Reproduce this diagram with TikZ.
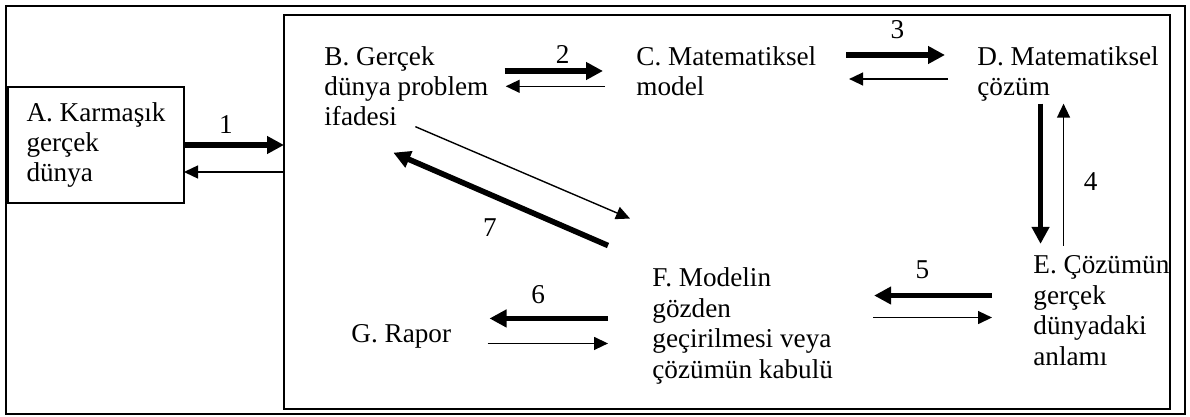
\documentclass[tikz,border=0pt]{standalone}
\usepackage{fontspec}
\setmainfont{Liberation Serif}
\usetikzlibrary{arrows.meta,calc}

\begin{document}
\begin{tikzpicture}[x=0.5pt,y=-0.5pt,
  frame/.style={draw,line width=0.75pt,inner sep=0pt,outer sep=0pt},
  txt/.style={font=\fontsize{13.6}{15.2}\selectfont,align=left,inner sep=0pt,anchor=base west},
  num/.style={font=\fontsize{13.6}{15.2}\selectfont,inner sep=0pt},
  thk/.style={-{Triangle[length=8.5pt,width=8.5pt]},line width=2.8pt},
  thn/.style={-{Triangle[length=7pt,width=6.5pt]},line width=0.7pt}]
  \useasboundingbox (0,0) rectangle (1190,417);
  % frames
  \node[frame,anchor=north west,minimum width=589.5pt,minimum height=204pt] (outer) at (6,6) {};
  \node[frame,anchor=north west,minimum width=443pt,minimum height=197pt] (M) at (284,15) {};
  % stages (placed by the baseline of their last line)
  \node[frame,line width=0.6pt,minimum width=88pt,minimum height=58pt,
    font=\fontsize{13.6}{15.2}\selectfont,align=left] (A) at (96,145) {A. Karmaşık\\gerçek\\dünya};
  \node[txt] (B) at (324,126) {B. Gerçek\\dünya problem\\ifadesi};
  \node[txt] (C) at (636,95.5) {C. Matematiksel\\model};
  \node[txt] (D) at (977,95.5) {D. Matematiksel\\çözüm};
  \node[txt] (E) at (1033,365) {E. Çözümün\\gerçek\\dünyadaki\\anlamı};
  \node[txt] (F) at (652,378) {F. Modelin\\gözden\\geçirilmesi veya\\çözümün kabulü};
  \node[txt] (G) at (351,343) {G. Rapor};
  % 1
  \draw[thk] (A.east) -- (A.east -| M.west) node[num,above,pos=0.42,yshift=4.5pt] {1};
  \draw[thn] ([yshift=-13.5pt]A.east -| M.west) -- ([yshift=-13.5pt]A.east);
  % 2
  \draw[thk] ([xshift=8pt]B.east |- C.west) -- ([xshift=-16.5pt]C.west) node[num,above,pos=0.59,yshift=2.5pt] {2};
  \draw[thn] ([xshift=-15.5pt]C.west |- B.east) -- ([xshift=8.5pt]B.east);
  % 3
  \draw[thk] ([xshift=14.75pt,yshift=8pt]C.east) -- ([xshift=-16pt,yshift=8pt]C.east -| D.west) node[num,above,pos=0.52,yshift=6.5pt] {3};
  \draw[thn] ([xshift=-14.5pt,yshift=-4pt]C.east -| D.west) -- ([xshift=16.25pt,yshift=-4pt]C.east);
  % 4
  \draw[thk] ([xshift=-13.75pt,yshift=-1pt]D.south) -- ([xshift=-13.75pt,yshift=5.75pt]D.south |- E.north);
  \draw[thn] ([xshift=-2.25pt,yshift=4.75pt]D.south |- E.north) -- ([xshift=-2.25pt,yshift=-1pt]D.south) node[num,right,pos=0.45,xshift=9.75pt] {4};
  % 5
  \draw[thk] ([xshift=-20.5pt,yshift=7.5pt]E.west) -- ([xshift=20.4pt,yshift=7.5pt]E.west -| F.east) node[num,above,pos=0.59,yshift=7pt] {5};
  \draw[thn] ([xshift=19.9pt,yshift=-3.5pt]E.west -| F.east) -- ([xshift=-20.5pt,yshift=-3.5pt]E.west);
  % 6
  \draw[thk] ([xshift=-22pt,yshift=3.7pt]F.west) -- ([xshift=19pt,yshift=3.7pt]F.west -| G.east) node[num,above,pos=0.59,yshift=6pt] {6};
  \draw[thn] ([xshift=18pt,yshift=-8.8pt]F.west -| G.east) -- ([xshift=-22pt,yshift=-8.8pt]F.west);
  % 7
  \draw[thn] ([xshift=4.5pt]B.south) -- ([xshift=-11pt,yshift=24.5pt]F.north west);
  \draw[thk] ([xshift=-22pt,yshift=11pt]F.north west) -- ([xshift=-6.5pt,yshift=-13pt]B.south) node[num,below,pos=0.55,yshift=-10.5pt] {7};
\end{tikzpicture}
\end{document}
